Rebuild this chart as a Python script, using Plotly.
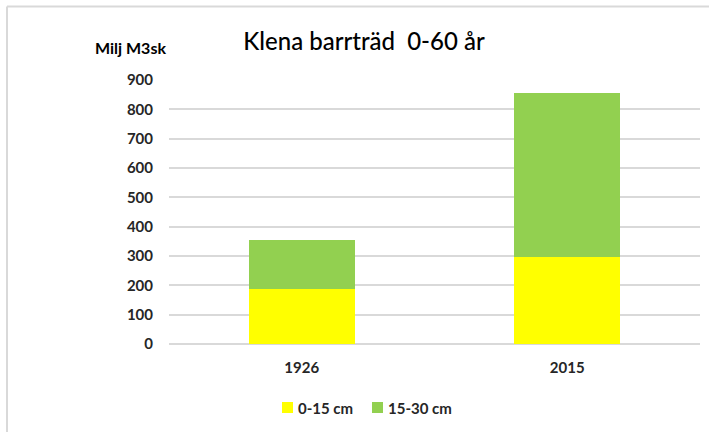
import plotly.graph_objects as go

categories = ["1926", "2015"]
small = [187, 296]      # 0-15 cm
medium = [168, 559]     # 15-30 cm
series_names = ["0-15 cm", "15-30 cm"]
series_colors = ["#FFFF00", "#92D050"]
y_ticks = [0, 100, 200, 300, 400, 500, 600, 700, 800, 900]

W, H = 709, 432
L, R, T, B = 169, 9, 80, 88
pw, ph = W - L - R, H - T - B

def px_x(x):
    return (x - L) / pw

def px_y(y):
    return (H - B - y) / ph

fnt = "Lato, 'Open Sans', sans-serif"

fig = go.Figure()
for vals, name, col in zip([small, medium], series_names, series_colors):
    fig.add_trace(go.Bar(x=categories, y=vals, name=name, marker=dict(color=col, line=dict(width=0)),
                         showlegend=False))

# custom legend (compact, like the original)
legend_sq_x = [282, 372]
shapes = [
    dict(type="line", xref="paper", yref="paper", x0=px_x(7), x1=px_x(709), y0=px_y(6.5), y1=px_y(6.5),
         line=dict(color="#d9d9d9", width=2)),
    dict(type="line", xref="paper", yref="paper", x0=px_x(7), x1=px_x(7), y0=px_y(6.5), y1=px_y(432),
         line=dict(color="#d9d9d9", width=2)),
]
annotations = [dict(text="Milj M3sk", xref="paper", yref="paper", x=px_x(93), y=px_y(47),
                    xanchor="left", yanchor="middle", showarrow=False,
                    font=dict(size=16, color="#000000", family=fnt, weight="bold"))]
for sx, name, col in zip(legend_sq_x, series_names, series_colors):
    shapes.append(dict(type="rect", xref="paper", yref="paper", x0=px_x(sx), x1=px_x(sx + 11),
                       y0=px_y(413), y1=px_y(402), fillcolor=col, line=dict(width=0)))
    annotations.append(dict(text=name, xref="paper", yref="paper", x=px_x(sx + 14), y=px_y(407.5),
                            xanchor="left", yanchor="middle", showarrow=False,
                            font=dict(size=15, color="#262626", family=fnt, weight="bold")))

fig.update_layout(
    width=W, height=H,
    barmode="stack", bargap=0.6,
    margin=dict(l=L, r=R, t=T, b=B),
    paper_bgcolor="white", plot_bgcolor="white",
    font=dict(family=fnt, color="#262626"),
    title=dict(text="Klena barrträd  0-60 år", xref="container", yref="container",
               x=364 / W, y=1 - 42 / H, xanchor="center", yanchor="middle",
               font=dict(size=24, color="#000000", family=fnt, weight=500)),
    showlegend=False,
    xaxis=dict(showgrid=False, showline=False, ticks="", ticklabelstandoff=13,
               tickfont=dict(size=15, weight="bold", color="#262626")),
    yaxis=dict(range=[0, 900], tickvals=y_ticks, showgrid=True, gridcolor="#d9d9d9", gridwidth=1.5,
               zeroline=True, zerolinecolor="#d9d9d9", zerolinewidth=1.5, showline=False, ticks="",
               ticklabelstandoff=15, tickfont=dict(size=15, weight="bold", color="#262626")),
    annotations=annotations,
    shapes=shapes,
)

fig.write_html("out.html", post_script="document.body.style.margin='0';",
               config={"displayModeBar": False})
